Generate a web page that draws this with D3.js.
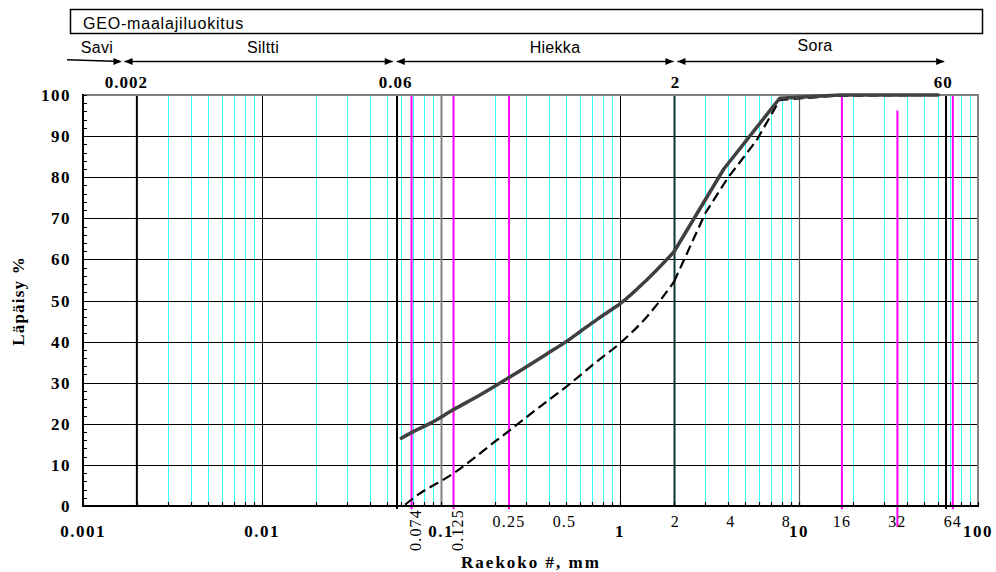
<!DOCTYPE html>
<html>
<head>
<meta charset="utf-8">
<script src="https://cdn.jsdelivr.net/npm/d3@7"></script>
<style>
  body { margin: 0; background: #fff; }
  svg { display: block; }
  .sans { font-family: "Liberation Sans", Arial, sans-serif; }
  .serif { font-family: "Liberation Serif", "Times New Roman", serif; }
</style>
</head>
<body>
<svg id="chart" width="996" height="572"></svg>
<script>
// --- data ---
const decadeTicks = [0.001, 0.01, 0.1, 1, 10, 100];
const decadeLabels = ["0.001", "0.01", "0.1", "1", "10", "100"];
const yTicks = [0, 10, 20, 30, 40, 50, 60, 70, 80, 90, 100];

// sieve sizes (magenta lines + thin labels)
const sieveLines = [0.074, 0.125, 0.25, 16, 32, 64];
const sieveValues = [0.074, 0.125, 0.25, 0.5, 2, 4, 8, 16, 32, 64];
const sieveLabels = ["0.074", "0.125", "0.25", "0.5", "2", "4", "8", "16", "32", "64"];

// GEO classes
const classEdges = [0.002, 0.06, 2, 60];
const edgeLabels = ["0.002", "0.06", "2", "60"];
const classNames = ["Savi", "Siltti", "Hiekka", "Sora"];

// grading curves (grain size mm, passing %)
const solidSize = [0.06, 0.07, 0.087, 0.117, 0.165, 0.245, 0.39, 0.5, 0.61, 0.74, 0.92, 1, 1.41, 2, 3.8, 7.8, 17, 60];
const solidPass = [16.5, 18.1, 20.1, 23.4, 27.0, 31.5, 37.0, 40.0, 42.7, 45.3, 48.1, 49.2, 55.0, 61.8, 82.0, 99.2, 100, 100];
const dashedSize = [0.063, 0.07, 0.117, 0.205, 0.245, 0.389, 0.5, 0.74, 1, 1.41, 2, 3, 4, 5.8, 7.8, 16, 60];
const dashedPass = [0.3, 1.9, 7.9, 16.0, 18.6, 25.4, 29.0, 35.1, 39.6, 46.0, 54.5, 71.3, 79.8, 89.0, 98.8, 99.8, 100];

// --- chart ---
const svg = d3.select("#chart");
const x = d3.scaleLog().domain([0.001, 100]).range([83, 978]);
// sieve sizes sit on a slightly wider log axis in the original sheet
const xs = d3.scaleLog().domain([0.001, 100]).range([67, 988.6]);
const y = d3.scaleLinear().domain([0, 100]).range([506, 95]);
const crisp = v => Math.round(v) + 0.5;
const same = (a, b) => Math.abs(Math.log10(a / b)) < 1e-6;

// header box
svg.append("rect")
  .attr("x", 70.5).attr("y", 9.5).attr("width", 912).attr("height", 24)
  .attr("fill", "none").attr("stroke", "#000").attr("stroke-width", 1.5);
svg.append("text").attr("class", "sans")
  .attr("x", 83).attr("y", 29)
  .attr("font-size", 16).attr("letter-spacing", 0.8)
  .text("GEO-maalajiluokitus");

// class arrows
const arrowY = 61.5;
const head = (tip, dir) => {
  svg.append("path")
    .attr("d", `M${tip},${arrowY} l${-8 * dir},-3.5 l0,7 z`)
    .attr("fill", "#000");
};
const edgeX = classEdges.map(d => xs(d));
edgeX[3] -= 1.5;
// Savi (open at the left)
svg.append("line").attr("x1", 67).attr("y1", arrowY - 1.8).attr("x2", edgeX[0] - 2).attr("y2", arrowY)
  .attr("stroke", "#000").attr("stroke-width", 1.5);
head(edgeX[0] - 1, 1);
for (let i = 0; i < 3; i++) {
  const a = edgeX[i] + 2, b = edgeX[i + 1] - 2;
  svg.append("line").attr("x1", a).attr("y1", arrowY).attr("x2", b).attr("y2", arrowY)
    .attr("stroke", "#000").attr("stroke-width", 1.5);
  head(a, -1);
  head(b, 1);
}
const classLabelX = [97, 263, 555, 815];
svg.selectAll(".cls").data(classNames).enter().append("text")
  .attr("class", "sans cls")
  .attr("x", (d, i) => classLabelX[i])
  .attr("y", (d, i) => i === 3 ? 51 : 53)
  .attr("text-anchor", "middle")
  .attr("font-size", 16).attr("letter-spacing", 0.3)
  .text(d => d);

// class edge labels
const edgeDx = [4, 1, 0, -3];
svg.selectAll(".edge").data(edgeLabels).enter().append("text")
  .attr("class", "serif edge")
  .attr("x", (d, i) => edgeX[i] + edgeDx[i])
  .attr("y", 88)
  .attr("text-anchor", "middle")
  .attr("font-size", 17).attr("font-weight", "bold").attr("letter-spacing", 1)
  .text(d => d);

// minor grid (cyan)
const minor = x.ticks().filter(v => !decadeTicks.some(t => same(v, t)) &&
  !same(v, 0.002) && !same(v, 2));
svg.append("g").selectAll("line").data(minor).enter().append("line")
  .attr("x1", d => crisp(x(d))).attr("x2", d => crisp(x(d)))
  .attr("y1", y(100)).attr("y2", y(0))
  .attr("stroke", "#33ffff").attr("stroke-width", 1);

// horizontal grid
svg.append("g").selectAll("line").data(yTicks.filter(d => d > 0 && d < 100)).enter().append("line")
  .attr("x1", x(0.001)).attr("x2", x(100))
  .attr("y1", d => crisp(y(d))).attr("y2", d => crisp(y(d)))
  .attr("stroke", "#000").attr("stroke-width", 1);

// decade lines
const special = [
  { v: 0.01, c: "#000", w: 1 },
  { v: 0.1, c: "#808080", w: 2 },
  { v: 1, c: "#000", w: 1 },
  { v: 2, c: "#0b3535", w: 2 },
  { v: 10, c: "#555", w: 1.2 }
];
svg.append("g").selectAll("line").data(special).enter().append("line")
  .attr("x1", d => crisp(x(d.v))).attr("x2", d => crisp(x(d.v)))
  .attr("y1", y(100)).attr("y2", y(0))
  .attr("stroke", d => d.c).attr("stroke-width", d => d.w);
// class boundary lines
svg.append("line")
  .attr("x1", x(classEdges[0])).attr("x2", x(classEdges[0]))
  .attr("y1", y(99.8)).attr("y2", y(0))
  .attr("stroke", "#000").attr("stroke-width", 2);
[edgeX[1] + 2, edgeX[3] - 0.5].forEach(px => {
  svg.append("line")
    .attr("x1", Math.round(px)).attr("x2", Math.round(px))
    .attr("y1", y(100)).attr("y2", y(0) + 3)
    .attr("stroke", "#000").attr("stroke-width", 2);
});

// sieve lines (magenta)
svg.append("g").selectAll("line").data(sieveLines).enter().append("line")
  .attr("x1", d => xs(d)).attr("x2", d => xs(d))
  .attr("y1", d => d === 32 ? y(96.2) : y(100))
  .attr("y2", d => d === 32 ? y(-5.1) : y(-0.8))
  .attr("stroke", "#ff00ff").attr("stroke-width", 2);

// frame: top + right in gray, axes in black
svg.append("line").attr("x1", x(0.001)).attr("x2", x(100) + 1).attr("y1", y(100)).attr("y2", y(100))
  .attr("stroke", "#808080").attr("stroke-width", 2);
svg.append("line").attr("x1", x(100)).attr("x2", x(100)).attr("y1", y(100)).attr("y2", y(0))
  .attr("stroke", "#808080").attr("stroke-width", 2);
svg.append("line").attr("x1", x(0.001) - 1).attr("x2", x(100) + 1).attr("y1", y(0)).attr("y2", y(0))
  .attr("stroke", "#000").attr("stroke-width", 2);
svg.append("line").attr("x1", x(0.001)).attr("x2", x(0.001)).attr("y1", y(100) - 1).attr("y2", y(0) + 1)
  .attr("stroke", "#000").attr("stroke-width", 2);

// y ticks every 2 % (inside)
svg.append("g").selectAll("line").data(d3.range(0, 101, 2)).enter().append("line")
  .attr("x1", x(0.001)).attr("x2", x(0.001) + 4)
  .attr("y1", d => crisp(y(d))).attr("y2", d => crisp(y(d)))
  .attr("stroke", "#000").attr("stroke-width", 1);
// x ticks (inside)
svg.append("g").selectAll("line").data(x.ticks()).enter().append("line")
  .attr("x1", d => crisp(x(d))).attr("x2", d => crisp(x(d)))
  .attr("y1", y(0)).attr("y2", y(0) - 4)
  .attr("stroke", "#000").attr("stroke-width", 1.2);

// curves: sand part smooth, gravel part straight segments
const line = d3.line().x(d => x(d[0])).y(d => y(d[1]));
const smooth = d3.line().x(d => x(d[0])).y(d => y(d[1])).curve(d3.curveMonotoneX);
const dashed = dashedSize.map((s, i) => [s, dashedPass[i]]);
const solid = solidSize.map((s, i) => [s, solidPass[i]]);
[[dashed.filter(d => d[0] <= 2), smooth], [dashed.filter(d => d[0] >= 2), line]].forEach(([pts, gen]) => {
  svg.append("path")
    .datum(pts)
    .attr("d", gen)
    .attr("fill", "none").attr("stroke", "#000").attr("stroke-width", 2.2)
    .attr("stroke-dasharray", "10,5");
});
[[solid.filter(d => d[0] <= 2), smooth], [solid.filter(d => d[0] >= 2), line]].forEach(([pts, gen]) => {
  svg.append("path")
    .datum(pts)
    .attr("d", gen)
    .attr("fill", "none").attr("stroke", "#404040").attr("stroke-width", 3.5)
    .attr("stroke-linejoin", "round").attr("stroke-linecap", "round");
});

// y tick labels
svg.selectAll(".ylab").data(yTicks).enter().append("text")
  .attr("class", "serif ylab")
  .attr("x", 71).attr("y", d => y(d) + 6)
  .attr("text-anchor", "end")
  .attr("font-size", 17).attr("font-weight", "bold").attr("letter-spacing", 1.5)
  .text(d => d);

// decade labels
svg.selectAll(".xlab").data(decadeTicks).enter().append("text")
  .attr("class", "serif xlab")
  .attr("x", d => x(d)).attr("y", 537)
  .attr("text-anchor", "middle")
  .attr("font-size", 17).attr("font-weight", "bold").attr("letter-spacing", 1.5)
  .text((d, i) => decadeLabels[i]);

// sieve labels
sieveValues.forEach((v, i) => {
  const t = svg.append("text").attr("class", "serif")
    .attr("font-size", 16).attr("letter-spacing", 1.2)
    .text(sieveLabels[i]);
  if (v < 0.2) {
    t.attr("transform", `translate(${xs(v) + 9},509) rotate(-90)`)
      .attr("text-anchor", "end");
  } else {
    t.attr("x", xs(v)).attr("y", 527).attr("text-anchor", "middle");
  }
});

// axis titles
svg.append("text").attr("class", "serif")
  .attr("x", 531).attr("y", 568).attr("text-anchor", "middle")
  .attr("font-size", 17).attr("font-weight", "bold").attr("letter-spacing", 2)
  .text("Raekoko #, mm");
svg.append("text").attr("class", "serif")
  .attr("transform", "translate(24,301) rotate(-90)")
  .attr("text-anchor", "middle")
  .attr("font-size", 17).attr("font-weight", "bold").attr("letter-spacing", 1.2)
  .text("Läpäisy %");
</script>
</body>
</html>
